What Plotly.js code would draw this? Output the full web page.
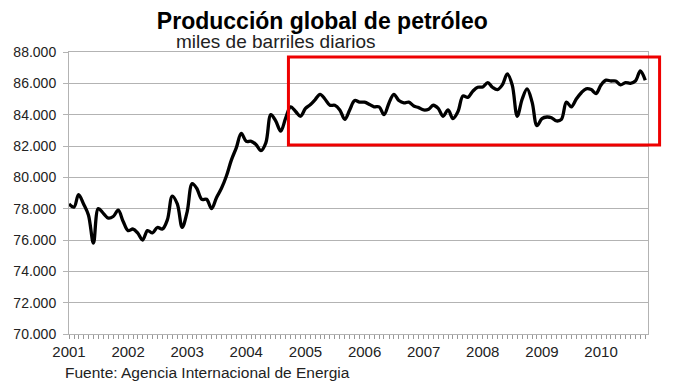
<!DOCTYPE html>
<html>
<head>
<meta charset="utf-8">
<script src="https://cdn.plot.ly/plotly-3.0.1.min.js"></script>
<style>
  html, body { margin: 0; padding: 0; background: #fff; }
  #chart { width: 673px; height: 389px; }
</style>
</head>
<body>
<div id="chart"></div>
<script>
// Producción mensual, miles de barriles diarios
const years = [2001, 2002, 2003, 2004, 2005, 2006, 2007, 2008, 2009, 2010];
const v2001 = [78300, 78100, 78900, 78300, 77600, 75800, 78000, 77700, 77400, 77500, 77900, 77200];
const v2002 = [76600, 76700, 76450, 76000, 76600, 76450, 76800, 76700, 77300, 78800, 78300, 76800];
const v2003 = [77800, 79600, 79300, 78600, 78600, 78000, 78700, 79300, 80100, 81100, 81900, 82800];
const v2004 = [82300, 82300, 82100, 81700, 82200, 84000, 83600, 82950, 83800, 84500, 84200, 83900];
const v2005 = [84400, 84650, 84950, 85300, 85000, 84600, 84600, 84300, 83700, 84300, 84900, 84800];
const v2006 = [84800, 84650, 84500, 84500, 84000, 84750, 85300, 84900, 84750, 84800, 84550, 84450];
const v2007 = [84300, 84350, 84600, 84400, 83900, 84300, 83750, 84200, 85200, 85100, 85500, 85750];
const v2008 = [85770, 86050, 85750, 85600, 85900, 86600, 85900, 83900, 85000, 85650, 84800, 83300];
const v2009 = [83750, 83850, 83800, 83600, 83700, 84800, 84500, 85000, 85400, 85650, 85600, 85350];
const v2010 = [85900, 86200, 86150, 86150, 85900, 86050, 86000, 86150, 86800, 86200];
const valuesByYear = [v2001, v2002, v2003, v2004, v2005, v2006, v2007, v2008, v2009, v2010];
const yTicks = [70000, 72000, 74000, 76000, 78000, 80000, 82000, 84000, 86000, 88000];

const titleText = "Producción global de petróleo";
const subtitleText = "miles de barriles diarios";
const sourceText = "Fuente: Agencia Internacional de Energia";

const xs = [], ys = [];
years.forEach((yr, k) => {
  valuesByYear[k].forEach((v, m) => {
    xs.push(yr + "-" + String(m + 1).padStart(2, "0") + "-01");
    ys.push(v);
  });
});

const FONT = "Liberation Sans, Arial, Helvetica, sans-serif";
const GRID = "#b3b3b3";

const trace = {
  x: xs, y: ys, type: "scatter", mode: "lines",
  line: { color: "#000000", width: 3.3, shape: "spline", smoothing: 1 },
  hoverinfo: "skip", showlegend: false
};

const layout = {
  width: 673, height: 389,
  margin: { l: 69, r: 25, t: 52, b: 55, pad: 0 },
  paper_bgcolor: "#ffffff", plot_bgcolor: "#ffffff",
  separators: ",.",
  font: { family: FONT, color: "#222222" },
  title: {
    text: "<b>" + titleText + "</b>",
    font: { family: FONT, size: 23, color: "#000000" },
    xref: "container", x: 0.479, xanchor: "center",
    yref: "container", y: 0.946, yanchor: "middle"
  },
  xaxis: {
    type: "date",
    range: ["2001-01-01", "2010-10-18"],
    dtick: "M12", tick0: "2001-01-01", tickformat: "%Y",
    ticks: "outside", ticklen: 4, tickcolor: "#999999",
    showgrid: false, zeroline: false,
    showline: true, linecolor: GRID, linewidth: 1, mirror: true,
    tickfont: { family: FONT, size: 15, color: "#222222" },
    minor: { dtick: "M1", tick0: "2001-01-01", ticks: "outside", ticklen: 4, tickcolor: "#999999", showgrid: false }
  },
  yaxis: {
    range: [70000, 88000],
    tickvals: yTicks, tickformat: ",d",
    ticks: "outside", ticklen: 5, tickcolor: GRID,
    ticklabelstandoff: 4,
    showgrid: true, gridcolor: GRID, gridwidth: 1, zeroline: false,
    showline: true, linecolor: GRID, linewidth: 1, mirror: true,
    tickfont: { family: FONT, size: 14, color: "#222222" }
  },
  annotations: [
    {
      text: subtitleText, xref: "paper", yref: "paper",
      x: 0.3575, y: 1.039, xanchor: "center", yanchor: "middle",
      showarrow: false, font: { family: FONT, size: 19, color: "#222222" }
    },
    {
      text: sourceText, xref: "paper", yref: "paper",
      x: -0.0104, y: -0.138, xanchor: "left", yanchor: "middle",
      showarrow: false, font: { family: FONT, size: 15.5, color: "#222222" }
    }
  ],
  shapes: [
    {
      type: "rect", xref: "paper", yref: "paper",
      x0: 0.379, x1: 1.020, y0: 0.670, y1: 0.982,
      line: { color: "#ee0000", width: 3 }, fillcolor: "rgba(0,0,0,0)", layer: "above"
    }
  ]
};

Plotly.newPlot("chart", [trace], layout, { staticPlot: true, displayModeBar: false });
</script>
</body>
</html>
